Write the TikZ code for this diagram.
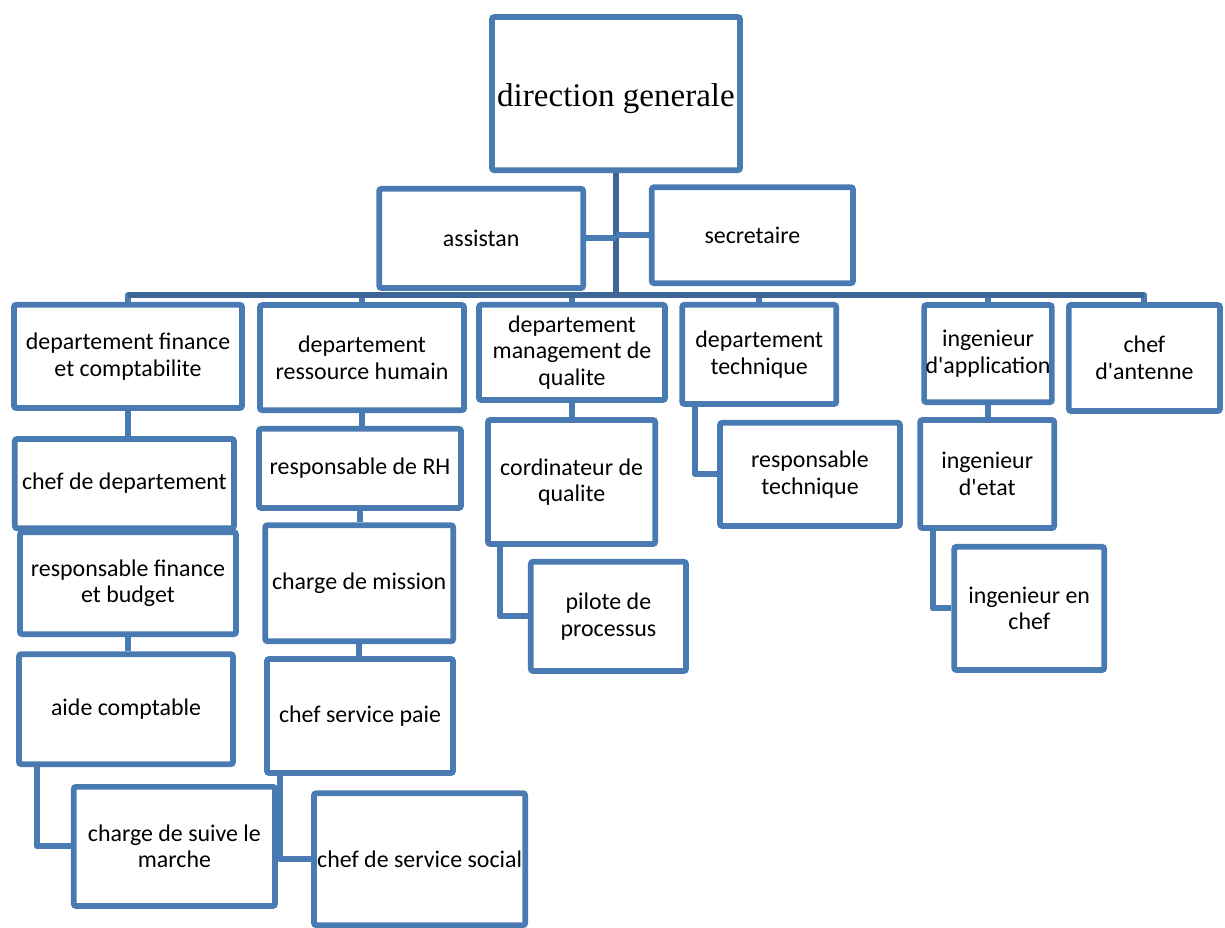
\documentclass[tikz,border=0pt]{standalone}
\usepackage{fontspec}
\setmainfont{Carlito}
\newfontfamily\dgfont{Liberation Serif}
\usepackage{tikz}
\pgfdeclarelayer{bg}
\pgfsetlayers{bg,main}
\definecolor{boxblue}{RGB}{74,122,178}
\definecolor{busblue}{RGB}{62,101,152}
\tikzset{
    every node/.style={rectangle, draw=boxblue, line width=4pt, fill=white, rounded corners=1.5pt, align=center, inner sep=1pt, font=\fontsize{17}{19}\selectfont}
}
\tikzset{link/.style={draw=boxblue, line width=4.3pt, line join=round}}
\tikzset{busline/.style={draw=busblue, line width=4.8pt, line join=round}}

\begin{document}
\begin{tikzpicture}
    \useasboundingbox (0cm, 0cm) rectangle (30.625cm, -23.175cm);

    \node (dg) [minimum width=6.20cm, minimum height=3.83cm, text height=24pt, text depth=5pt, font=\dgfont\fontsize{23.5}{26}\selectfont] at (15.40cm, -2.34cm) {direction generale};
    \node (as) [minimum width=5.10cm, minimum height=2.48cm] at (12.03cm, -5.96cm) {assistan};
    \node (se) [minimum width=5.03cm, minimum height=2.40cm] at (18.81cm, -5.88cm) {secretaire};

    \node (dfc) [minimum width=5.70cm, minimum height=2.58cm] at (3.20cm, -8.91cm) {departement finance\\et comptabilite};
    \node (drh) [minimum width=5.10cm, minimum height=2.63cm] at (9.05cm, -8.94cm) {departement\\ressource humain};
    \node (dmq) [minimum width=4.65cm, minimum height=2.38cm] at (14.30cm, -8.81cm) {departement\\management de\\qualite};
    \node (dt) [minimum width=3.85cm, minimum height=2.48cm] at (18.98cm, -8.86cm) {departement\\technique};
    \node (ia) [minimum width=3.15cm, minimum height=2.43cm] at (24.70cm, -8.84cm) {ingenieur\\d\textquotesingle application};
    \node (ca) [minimum width=3.78cm, minimum height=2.65cm] at (28.61cm, -8.95cm) {chef\\d\textquotesingle antenne};

    \node (cd) [minimum width=5.48cm, minimum height=2.23cm] at (3.11cm, -12.09cm) {chef de departement};
    \node (rf) [minimum width=5.40cm, minimum height=2.55cm] at (3.20cm, -14.58cm) {responsable finance\\et budget};
    \node (ac) [minimum width=5.35cm, minimum height=2.75cm] at (3.15cm, -17.73cm) {aide comptable};
    \node (cm) [minimum width=5.03cm, minimum height=2.98cm] at (4.36cm, -21.16cm) {charge de suive le\\marche};

    \node (rrh) [minimum width=5.05cm, minimum height=1.98cm] at (9.00cm, -11.71cm) {responsable de RH};
    \node (chm) [minimum width=4.70cm, minimum height=2.90cm] at (8.98cm, -14.58cm) {charge de mission};
    \node (csp) [minimum width=4.65cm, minimum height=2.85cm] at (9.00cm, -17.90cm) {chef service paie};
    \node (css) [minimum width=5.28cm, minimum height=3.30cm] at (10.49cm, -21.48cm) {chef de service social};

    \node (cq) [minimum width=4.18cm, minimum height=3.10cm] at (14.29cm, -12.05cm) {cordinateur de\\qualite};
    \node (pp) [minimum width=3.88cm, minimum height=2.73cm] at (15.21cm, -15.41cm) {pilote de\\processus};

    \node (rt) [minimum width=4.50cm, minimum height=2.58cm] at (20.25cm, -11.86cm) {responsable\\technique};

    \node (ie) [minimum width=3.35cm, minimum height=2.70cm] at (24.68cm, -11.85cm) {ingenieur\\d\textquotesingle etat};
    \node (ic) [minimum width=3.75cm, minimum height=3.08cm] at (25.73cm, -15.21cm) {ingenieur en\\chef};

    \coordinate (bus) at (15.40cm, -7.375cm);

    \begin{pgfonlayer}{bg}
        \draw[link] (dfc.north) |- (bus);
        \draw[link] (drh.north) |- (bus);
        \draw[link] (dmq.north) |- (bus);
        \draw[link] (dt.north) |- (bus);
        \draw[link] (ia.north) |- (bus);
        \draw[link] (ca.north) |- (bus);
        \draw[busline] (bus -| dfc.north) -- (bus -| ca.north);
        \draw[busline] (dg.south) -- (bus);
        \draw[link] (as.east) -- (as.east -| dg.south);
        \draw[link] (se.west) -- (se.west -| dg.south);

        \draw[link] (dfc.south) -- (dfc.south |- cd.north);
        \draw[link] (rf.south) -- (rf.south |- ac.north);
        \draw[link] ([xshift=0.52cm]ac.south west) |- (cm.west);

        \draw[link] (drh.south) -- (drh.south |- rrh.north);
        \draw[link] (rrh.south) -- (rrh.south |- chm.north);
        \draw[link] (chm.south) -- (chm.south |- csp.north);
        \draw[link] ([xshift=0.40cm]csp.south west) |- (css.west);

        \draw[link] (dmq.south) -- (dmq.south |- cq.north);
        \draw[link] ([xshift=0.38cm]cq.south west) |- (pp.west);

        \draw[link] ([xshift=0.40cm]dt.south west) |- (rt.west);

        \draw[link] (ia.south) -- (ia.south |- ie.north);
        \draw[link] ([xshift=0.38cm]ie.south west) |- (ic.west);
    \end{pgfonlayer}
\end{tikzpicture}
\end{document}
